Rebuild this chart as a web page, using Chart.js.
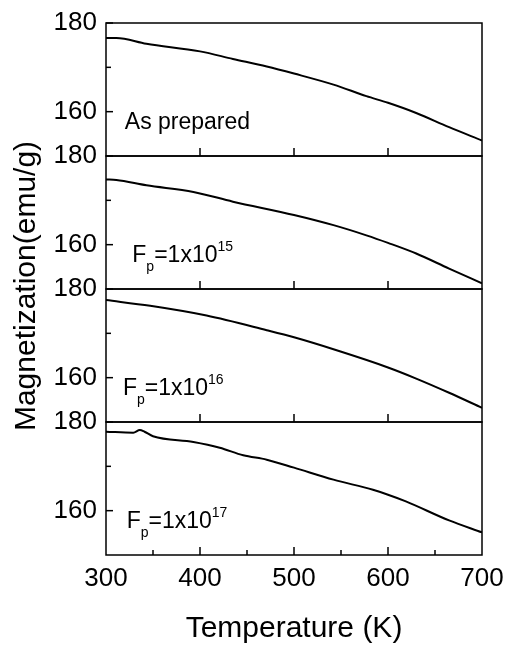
<!DOCTYPE html>
<html>
<head>
<meta charset="utf-8">
<script src="https://cdn.jsdelivr.net/npm/chart.js@4.4.1/dist/chart.umd.min.js"></script>
<style>
  html, body { margin: 0; padding: 0; background: #fff; }
</style>
</head>
<body>
<canvas id="chart" width="507" height="646"></canvas>
<script>
// Temperature (K) / magnetization (emu/g), top to bottom
const tempAsPrepared = [300, 311, 343, 400, 435, 471, 500, 542, 577, 600, 630, 665, 700];
const magAsPrepared  = [176.6, 176.6, 175.3, 173.6, 171.9, 170.2, 168.6, 166.1, 163.5, 162.0, 159.7, 156.5, 153.5];

const temp1e15 = [300, 311, 343, 393, 435, 500, 542, 577, 600, 630, 665, 700];
const mag1e15  = [174.7, 174.6, 173.4, 171.9, 169.7, 166.7, 164.4, 162.1, 160.4, 158.0, 154.6, 151.3];

const temp1e16 = [300, 347, 407, 471, 500, 542, 600, 630, 665, 700];
const mag1e16  = [177.5, 176.2, 174.0, 170.7, 169.1, 166.4, 162.3, 159.8, 156.6, 153.2];

const temp1e17 = [300, 329, 336, 341, 350, 393, 421, 446, 471, 500, 542, 584, 600, 619, 665, 700];
const mag1e17  = [177.8, 177.6, 178.2, 177.8, 176.8, 175.5, 174.2, 172.5, 171.5, 169.7, 167.0, 164.7, 163.6, 162.1, 157.8, 155.1];

// panel labels: null exponent means plain text
const panelNames = ["As prepared", "F", "F", "F"];
const fluenceExp = [null, "15", "16", "17"];

const yTickLabels = [160, 180];
const xTickLabels = [300, 400, 500, 600, 700];

const FONT = "'Liberation Sans', Arial, Helvetica, sans-serif";
const panelIds = ["p1", "p2", "p3", "p4"];
const series = [
  [tempAsPrepared, magAsPrepared],
  [temp1e15, mag1e15],
  [temp1e16, mag1e16],
  [temp1e17, mag1e17]
];

// frame, inward ticks, panel labels and axis titles
const panelFrame = {
  id: "panelFrame",
  afterDraw(chart) {
    const ctx = chart.ctx;
    const xs = chart.scales.x;
    const area = chart.chartArea;
    ctx.save();
    ctx.strokeStyle = "#000";
    ctx.fillStyle = "#000";
    ctx.lineWidth = 1.5;

    panelIds.forEach((id, i) => {
      const ys = chart.scales[id];
      const top = ys.getPixelForValue(180);
      const bottom = ys.getPixelForValue(150);
      ctx.strokeRect(area.left, top, area.right - area.left, bottom - top);

      // y ticks pointing in
      [160, 170, 180].forEach(v => {
        const py = ys.getPixelForValue(v);
        const len = v === 170 ? 5 : 7;
        ctx.beginPath();
        ctx.moveTo(area.left, py);
        ctx.lineTo(area.left + len, py);
        ctx.stroke();
      });

      // x ticks pointing up from the bottom edge
      const last = i === panelIds.length - 1;
      for (let t = 350; t < 700; t += 50) {
        const major = t % 100 === 0;
        if (!major && !last) continue;
        const px = xs.getPixelForValue(t);
        ctx.beginPath();
        ctx.moveTo(px, bottom);
        ctx.lineTo(px, bottom - (major ? 8 : 5));
        ctx.stroke();
      }

      // panel label
      const base = ys.getPixelForValue(160) + 17;
      ctx.textAlign = "left";
      ctx.textBaseline = "alphabetic";
      if (fluenceExp[i] === null) {
        ctx.font = "23px " + FONT;
        ctx.fillText(panelNames[i], xs.getPixelForValue(320), base);
      } else {
        let x = xs.getPixelForValue(i === 2 ? 318 : (i === 1 ? 328 : 322));
        ctx.font = "23px " + FONT;
        ctx.fillText(panelNames[i], x, base);
        x += ctx.measureText(panelNames[i]).width;
        ctx.font = "14px " + FONT;
        ctx.fillText("p", x, base + 9);
        x += ctx.measureText("p").width;
        ctx.font = "23px " + FONT;
        ctx.fillText("=1x10", x, base);
        x += ctx.measureText("=1x10").width;
        ctx.font = "14px " + FONT;
        ctx.fillText(fluenceExp[i], x, base - 11);
      }
    });

    // axis titles
    ctx.font = "30px " + FONT;
    ctx.textAlign = "center";
    ctx.textBaseline = "alphabetic";
    ctx.save();
    ctx.translate(35, (area.top + area.bottom) / 2 - 3);
    ctx.rotate(-Math.PI / 2);
    ctx.fillText("Magnetization(emu/g)", 0, 0);
    ctx.restore();

    ctx.fillText("Temperature (K)", (area.left + area.right) / 2, 637);
    ctx.restore();
  }
};

const scales = {
  x: {
    type: "linear",
    min: 300,
    max: 700,
    grid: { display: false, drawTicks: false },
    border: { display: false },
    afterFit(scale) {
      scale.height = 91;
      scale.paddingLeft = 0;
      scale.paddingRight = 0;
    },
    afterBuildTicks(scale) { scale.ticks = xTickLabels.map(v => ({ value: v })); },
    ticks: {
      color: "#000",
      padding: 8,
      maxRotation: 0,
      autoSkip: false,
      font: { family: FONT, size: 26 }
    }
  }
};
// stacked boxes on the left are placed last-defined first, so add bottom panel first
panelIds.slice().reverse().forEach(id => {
  scales[id] = {
    type: "linear",
    position: "left",
    stack: "panels",
    stackWeight: 1,
    min: 150,
    max: 180,
    grid: { display: false, drawTicks: false },
    border: { display: false },
    afterFit(scale) {
      scale.width = 106;
      scale.paddingTop = 0;
      scale.paddingBottom = 0;
    },
    afterBuildTicks(scale) { scale.ticks = yTickLabels.map(v => ({ value: v })); },
    ticks: {
      color: "#000",
      padding: 9,
      autoSkip: false,
      font: { family: FONT, size: 26 }
    }
  };
});

new Chart(document.getElementById("chart"), {
  type: "line",
  data: {
    datasets: series.map((s, i) => ({
      data: s[0].map((t, k) => ({ x: t, y: s[1][k] })),
      yAxisID: panelIds[i],
      borderColor: "#000",
      borderWidth: 2,
      pointRadius: 0,
      fill: false,
      cubicInterpolationMode: "monotone"
    }))
  },
  options: {
    responsive: false,
    animation: false,
    layout: { padding: { top: 23, right: 25, bottom: 0, left: 0 } },
    plugins: {
      legend: { display: false },
      tooltip: { enabled: false }
    },
    scales: scales
  },
  plugins: [panelFrame]
});
</script>
</body>
</html>
